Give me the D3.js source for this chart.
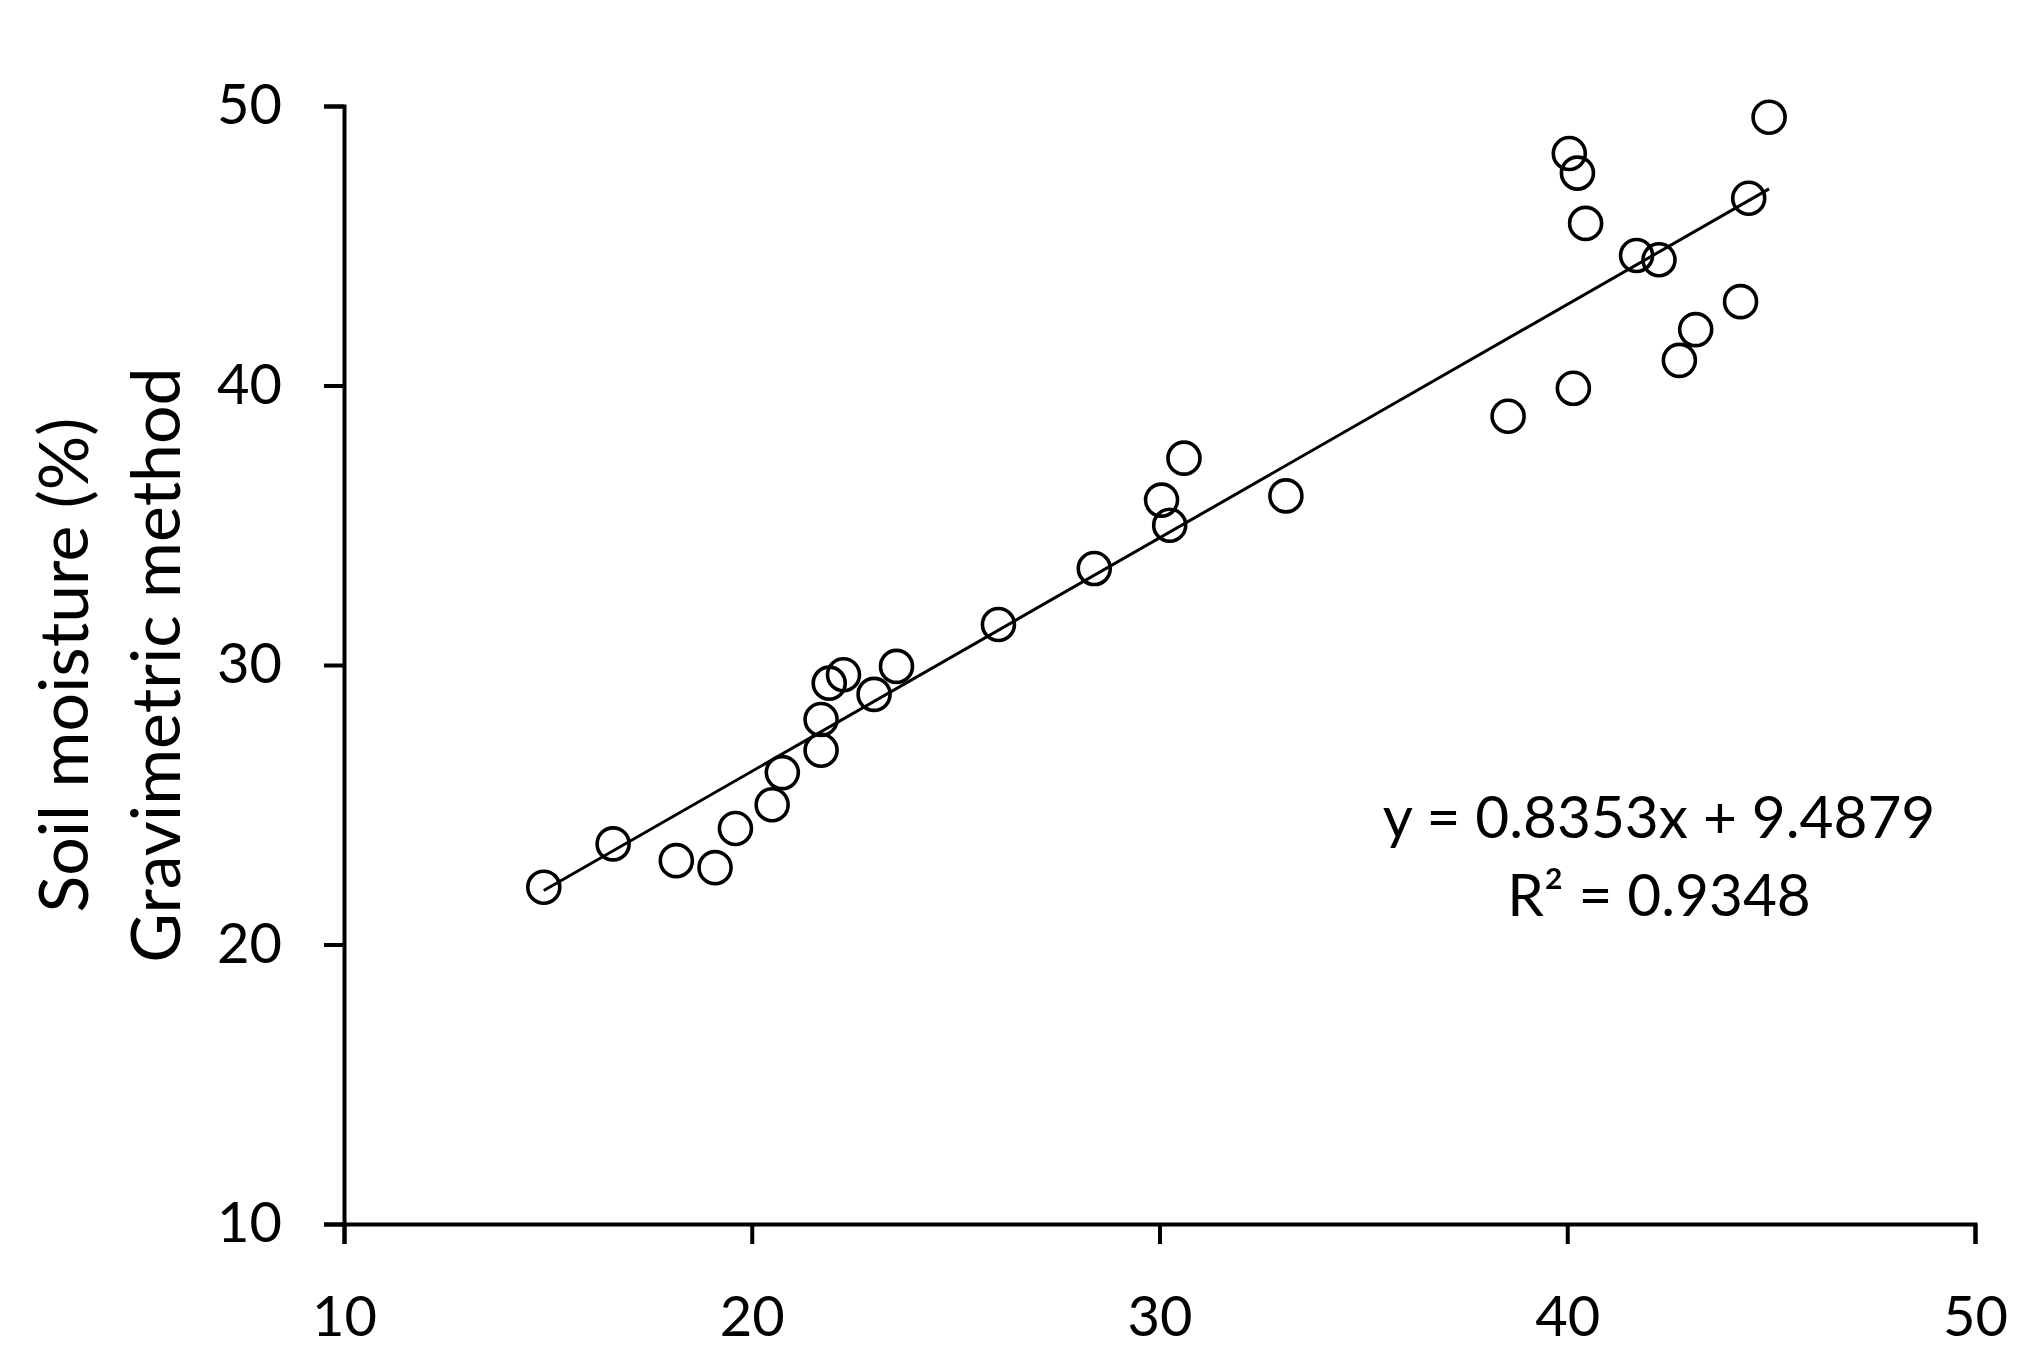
<!DOCTYPE html>
<html>
<head>
<meta charset="utf-8">
<script src="https://cdn.jsdelivr.net/npm/d3@7"></script>
<style>
    body { margin: 0; background: #fff; }
    svg { display: block; }
    text { font-family: Lato, "Open Sans", sans-serif; fill: #000; }
    .axis path, .axis line { stroke: #000; stroke-width: 4; }
    .axis text { font-size: 56px; font-family: Lato, "Open Sans", sans-serif; }
    .pt { fill: none; stroke: #000; stroke-width: 3.6; }
    .trend { stroke: #000; stroke-width: 3; }
    .eq { font-size: 58.5px; }
    .title { font-size: 68px; }
</style>
</head>
<body>
<svg id="chart"></svg>
<script>
// sensor reading (x) vs gravimetric soil moisture (y)
var xValues = [14.9, 16.6, 18.15, 19.1, 19.6, 20.5, 20.75, 21.7, 21.7, 21.9, 22.25, 23.0, 23.55,
    26.05, 28.4, 30.05, 30.25, 30.6, 33.1, 38.55, 40.15, 40.05, 40.25, 40.45, 41.7, 42.25,
    42.75, 43.15, 44.25, 44.45, 44.95];
var yValues = [22.05, 23.6, 23.0, 22.75, 24.15, 25.0, 26.15, 26.95, 28.05, 29.35, 29.65, 28.95, 29.95,
    31.45, 33.45, 35.9, 35.0, 37.4, 36.05, 38.9, 39.9, 48.3, 47.6, 45.8, 44.65, 44.5,
    40.9, 42.0, 43.0, 46.7, 49.6];
var xTicks = [10, 20, 30, 40, 50];
var yTicks = [10, 20, 30, 40, 50];
var slope = 0.8353, intercept = 9.4879;
var equationLines = ['y = 0.8353x + 9.4879', 'R² = 0.9348'];
var yTitleLines = ['Soil moisture (%)', 'Gravimetric method'];

var width = 2037, height = 1357;

var svg = d3.select('#chart')
    .attr('width', width)
    .attr('height', height);

var x = d3.scaleLinear().domain([10, 50]).range([344, 1975]);
var y = d3.scaleLinear().domain([10, 50]).range([1224, 106]);

// axes
svg.append('g')
    .attr('class', 'axis')
    .attr('transform', 'translate(0,' + y(10) + ')')
    .call(d3.axisBottom(x).tickValues(xTicks).tickSize(20).tickSizeOuter(20).tickPadding(52));

svg.append('g')
    .attr('class', 'axis')
    .attr('transform', 'translate(' + x(10) + ',0)')
    .call(d3.axisLeft(y).tickValues(yTicks).tickSize(20).tickSizeOuter(20).tickPadding(42));

// trend line across data range
var xExtent = d3.extent(xValues);
svg.append('line')
    .attr('class', 'trend')
    .attr('x1', x(xExtent[0]))
    .attr('y1', y(slope * xExtent[0] + intercept))
    .attr('x2', x(xExtent[1]))
    .attr('y2', y(slope * xExtent[1] + intercept));

// points
svg.append('g').selectAll('circle')
    .data(d3.range(xValues.length))
    .enter().append('circle')
    .attr('class', 'pt')
    .attr('cx', function(i) { return x(xValues[i]); })
    .attr('cy', function(i) { return y(yValues[i]); })
    .attr('r', 16);

// equation
svg.append('text')
    .attr('class', 'eq')
    .attr('text-anchor', 'middle')
    .selectAll('tspan')
    .data(equationLines)
    .enter().append('tspan')
    .attr('x', 1659)
    .attr('y', function(d, i) { return 838 + i * 78; })
    .text(function(d) { return d; });

// y axis title, two rotated lines
var yTitle = svg.append('text')
    .attr('class', 'title')
    .attr('text-anchor', 'middle')
    .attr('transform', 'translate(0,' + y(30) + ') rotate(-90)');
yTitle.selectAll('tspan')
    .data(yTitleLines)
    .enter().append('tspan')
    .attr('x', 0)
    .attr('y', function(d, i) { return 88 + i * 92; })
    .text(function(d) { return d; });
</script>
</body>
</html>
